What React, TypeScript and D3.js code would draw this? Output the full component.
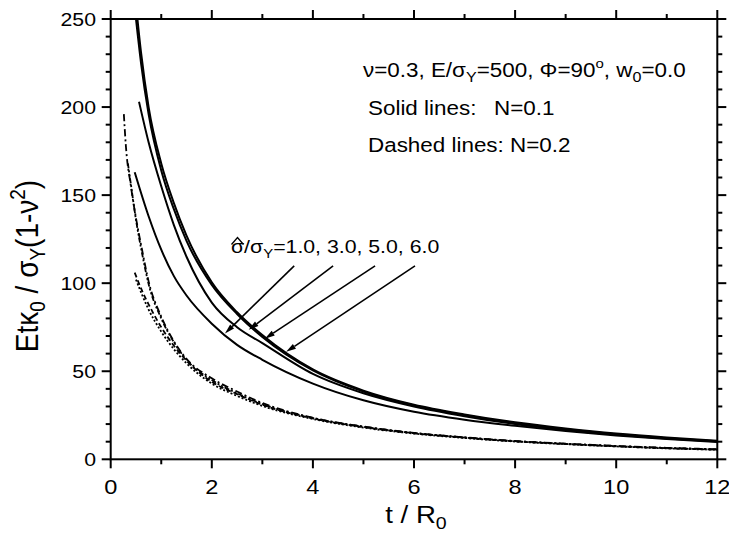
import React from "react";
import * as d3 from "d3";

// ---- data ----
const xTicks = [0, 2, 4, 6, 8, 10, 12];
const yTicks = [0, 50, 100, 150, 200, 250];

// Solid lines, N = 0.1
const tS1 = [0.475, 0.75, 1, 1.25, 1.5, 2, 2.5, 3, 4, 5, 6, 7, 8, 9, 10, 11, 12];
const vS1 = [163, 138, 119, 104, 93, 77, 65, 56.5, 43, 33.5, 27, 22.5, 19, 16, 13.5, 11.5, 9.8];
const tS3 = [0.56, 0.75, 1, 1.25, 1.5, 2, 2.5, 3, 4, 5, 6, 7, 8, 9, 10, 11, 12];
const vS3 = [203, 180, 155, 133, 115, 89, 75, 66, 48.5, 37.5, 30, 24.5, 20, 16.6, 13.9, 11.8, 10.1];
const tS5 = [0.5, 0.6, 0.75, 1, 1.25, 1.5, 2, 2.5, 3, 4, 5, 6, 7, 8, 9, 10, 11, 12];
const vS5 = [250, 225, 196, 164, 142, 124, 99, 82.5, 69.5, 50.5, 38.5, 30.5, 25, 20.5, 17, 14.2, 12, 10.2];
const tS6 = [0.5, 0.6, 0.75, 1, 1.25, 1.5, 2, 2.5, 3, 4, 5, 6, 7, 8, 9, 10, 11, 12];
const vS6 = [258, 231, 200, 168, 145.5, 127, 100.5, 83.5, 70.5, 51, 39, 31, 25.5, 21, 17.5, 14.6, 12.4, 10.6];

// Dashed lines, N = 0.2
const tD6 = [0.26, 0.3, 0.4, 0.5, 0.62, 0.75, 1, 1.25, 1.5, 2, 2.5, 3, 4, 5, 6, 7, 8, 9, 10, 11, 12];
const vD6 = [196, 178, 155, 137, 119, 101, 81, 67, 57, 46, 38.5, 32, 23.6, 18.6, 15, 12.5, 10.4, 8.9, 7.6, 6.5, 5.7];
const tD5 = [0.34, 0.4, 0.5, 0.62, 0.75, 1, 1.25, 1.5, 2, 2.5, 3, 4, 5, 6, 7, 8, 9, 10, 11, 12];
const vD5 = [168, 156, 136, 117, 99.5, 80, 66.5, 56.5, 45, 37.5, 31.4, 23.4, 18.5, 14.9, 12.4, 10.3, 8.8, 7.5, 6.4, 5.6];
const tD3 = [0.475, 0.6, 0.75, 1, 1.25, 1.5, 2, 2.5, 3, 4, 5, 6, 7, 8, 9, 10, 11, 12];
const vD3 = [106, 97, 88, 75, 64.5, 56, 44, 37, 31, 23.2, 18.3, 14.8, 12.3, 10.2, 8.7, 7.4, 6.3, 5.5];
const tD1 = [0.5, 0.75, 1, 1.25, 1.5, 2, 2.5, 3, 4, 5, 6, 7, 8, 9, 10, 11, 12];
const vD1 = [102, 85, 72.5, 62.5, 54.5, 43, 36, 30.3, 22.9, 18, 14.6, 12.1, 10.1, 8.6, 7.3, 6.2, 5.4];

// arrow annotation (data coords): tail -> tip
const arrowTails = [[3.63, 109.8], [4.4, 109.8], [5.23, 109.8], [6.02, 109.8]];
const arrowTips = [[2.26, 71.4], [2.73, 73.5], [3.05, 68.5], [3.47, 61]];

const FONT = "'Liberation Sans', Arial, Helvetica, sans-serif";
const SX = 1.15; // horizontal stretch of the original figure's lettering

function T({ x, y, anchor, size, children }: any) {
  return (
    <text
      transform={`translate(${x},${y}) scale(${SX},1)`}
      textAnchor={anchor || "start"}
      fontSize={size}
      fill="#000"
    >
      {children}
    </text>
  );
}

export default function App() {
  const W = 729, H = 543;
  const L = 110.7, R = 717.3, Tp = 19, B = 459.3;
  const x = d3.scaleLinear().domain([0, 12]).range([L, R]);
  const y = d3.scaleLinear().domain([0, 250]).range([B, Tp]);

  const line = d3
    .line<[number, number]>()
    .x((d) => x(d[0]))
    .y((d) => y(d[1]))
    .curve(d3.curveMonotoneX);

  const zip = (ts: number[], vs: number[]) => ts.map((t, i) => [t, vs[i]] as [number, number]);

  const solids = [
    { t: tS1, v: vS1 },
    { t: tS3, v: vS3 },
    { t: tS5, v: vS5 },
    { t: tS6, v: vS6 },
  ];
  const dashed = [
    { t: tD6, v: vD6, dash: "7,3,2,3" },
    { t: tD5, v: vD5, dash: "5,2,2,2,2,2" },
    { t: tD3, v: vD3, dash: "5,3" },
    { t: tD1, v: vD1, dash: "2,2" },
  ];

  const xMinor = d3.range(0, 13, 1);
  const yMinor = d3.range(0, 251, 10);

  const arrows = arrowTails.map((tail, i) => {
    const x1 = x(tail[0]), y1 = y(tail[1]);
    const x2 = x(arrowTips[i][0]), y2 = y(arrowTips[i][1]);
    const dx = x2 - x1, dy = y2 - y1;
    const len = Math.hypot(dx, dy);
    const ux = dx / len, uy = dy / len;
    const hl = 10, hw = 2.8;
    const bx = x2 - ux * hl, by = y2 - uy * hl;
    const head = `${x2},${y2} ${bx - uy * hw},${by + ux * hw} ${bx + uy * hw},${by - ux * hw}`;
    return { x1, y1, bx, by, head };
  });

  return (
    <svg
      width={W}
      height={H}
      style={{ position: "absolute", left: 0, top: 0, background: "#fff" }}
      fontFamily={FONT}
    >
      <defs>
        <clipPath id="plot">
          <rect x={L} y={Tp} width={R - L} height={B - Tp} />
        </clipPath>
      </defs>
      <rect x={0} y={0} width={W} height={H} fill="#fff" />

      {/* curves */}
      <g clipPath="url(#plot)" fill="none" stroke="#000">
        {solids.map((s, i) => (
          <path key={"s" + i} d={line(zip(s.t, s.v)) || ""} strokeWidth={2} />
        ))}
        {dashed.map((s, i) => (
          <path key={"d" + i} d={line(zip(s.t, s.v)) || ""} strokeWidth={1.8} strokeDasharray={s.dash} />
        ))}
      </g>

      {/* frame */}
      <rect x={L} y={Tp} width={R - L} height={B - Tp} fill="none" stroke="#000" strokeWidth={2} />

      {/* ticks */}
      <g stroke="#000" strokeWidth={2}>
        {xMinor.map((v) => {
          const len = v % 2 === 0 ? 9 : 5;
          return (
            <g key={"xt" + v}>
              <line x1={x(v)} x2={x(v)} y1={B} y2={B + len} />
              <line x1={x(v)} x2={x(v)} y1={Tp} y2={Tp - len} />
            </g>
          );
        })}
        {yMinor.map((v) => {
          const len = v % 50 === 0 ? 9 : 5;
          return (
            <g key={"yt" + v}>
              <line x1={L} x2={L - len} y1={y(v)} y2={y(v)} />
              <line x1={R} x2={R + len} y1={y(v)} y2={y(v)} />
            </g>
          );
        })}
      </g>

      {/* tick labels */}
      {xTicks.map((v) => (
        <T key={"xl" + v} x={x(v)} y={494} anchor="middle" size={20.5}>
          {v}
        </T>
      ))}
      {yTicks.map((v) => (
        <T key={"yl" + v} x={96} y={y(v) + 6.5} anchor="end" size={18.5}>
          {v}
        </T>
      ))}

      {/* axis titles */}
      <T x={(L + R) / 2 + 2} y={523} anchor="middle" size={24}>
        t / R<tspan fontSize={17} dy={6}>0</tspan>
      </T>
      <text
        transform={`translate(38,266) scale(${SX},1) rotate(-90)`}
        textAnchor="middle"
        fontSize={28}
        fill="#000"
      >
        Etκ<tspan fontSize={19} dy={6}>0</tspan>
        <tspan dy={-6}> / σ</tspan>
        <tspan fontSize={19} dy={6}>Y</tspan>
        <tspan dy={-6}>(1-ν</tspan>
        <tspan fontSize={19} dy={-11}>2</tspan>
        <tspan dy={11}>)</tspan>
      </text>

      {/* annotation block */}
      <T x={363} y={77} size={19.5}>
        ν=0.3, E/σ<tspan fontSize={14} dy={5}>Y</tspan>
        <tspan dy={-5}>=500, Φ=90</tspan>
        <tspan fontSize={13} dy={-9}>o</tspan>
        <tspan dy={9}>, w</tspan>
        <tspan fontSize={14} dy={5}>0</tspan>
        <tspan dy={-5}>=0.0</tspan>
      </T>
      <T x={368} y={115} size={19.5}>Solid lines:</T>
      <T x={494} y={115} size={19.5}>N=0.1</T>
      <T x={368} y={152} size={19.5}>Dashed lines: N=0.2</T>

      {/* sigma-hat label */}
      <T x={231} y={253} size={18.5}>
        σ/σ<tspan fontSize={13} dy={5}>Y</tspan>
        <tspan dy={-5}>=1.0, 3.0, 5.0, 6.0</tspan>
      </T>
      <path d="M231.5,244.5 L237.5,237.5 L243.5,244.5" fill="none" stroke="#000" strokeWidth={1.3} />

      {/* arrows */}
      {arrows.map((a, i) => (
        <g key={"ar" + i}>
          <line x1={a.x1} y1={a.y1} x2={a.bx} y2={a.by} stroke="#000" strokeWidth={1.6} />
          <polygon points={a.head} fill="#000" />
        </g>
      ))}
    </svg>
  );
}
